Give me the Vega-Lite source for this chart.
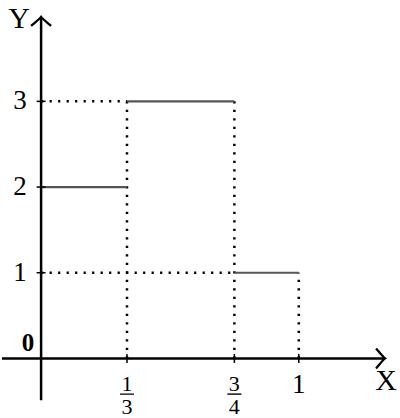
{
  "$schema": "https://vega.github.io/schema/vega-lite/v6.json",
  "width": 400,
  "height": 418,
  "autosize": {"type": "fit", "contains": "padding"},
  "padding": 0,
  "config": {
    "view": {"stroke": null},
    "text": {"font": "Liberation Serif", "color": "#000"}
  },
  "encoding": {
    "x": {"type": "quantitative", "scale": {"domain": [-0.1517, 1.3927], "nice": false, "zero": false}, "axis": null},
    "y": {"type": "quantitative", "scale": {"domain": [-0.6605, 4.183], "nice": false, "zero": false}, "axis": null}
  },
  "layer": [
    {
      "data": {"values": [
        {"x1": 0, "x2": 0.3333, "y1": 3, "y2": 3},
        {"x1": 0, "x2": 0.75, "y1": 1, "y2": 1},
        {"x1": 0.3333, "x2": 0.3333, "y1": 0, "y2": 3},
        {"x1": 0.75, "x2": 0.75, "y1": 0, "y2": 3},
        {"x1": 1, "x2": 1, "y1": 0, "y2": 1}
      ]},
      "mark": {"type": "rule", "color": "#000", "strokeWidth": 2.5, "strokeDash": [2.2, 6.3]},
      "encoding": {
        "x": {"field": "x1"}, "x2": {"field": "x2"},
        "y": {"field": "y1"}, "y2": {"field": "y2"}
      }
    },
    {
      "data": {"values": [
        {"x1": 0, "x2": 0.3333, "y1": 2, "y2": 2},
        {"x1": 0.3333, "x2": 0.75, "y1": 3, "y2": 3},
        {"x1": 0.75, "x2": 1, "y1": 1, "y2": 1}
      ]},
      "mark": {"type": "rule", "color": "#555", "strokeWidth": 2.2},
      "encoding": {
        "x": {"field": "x1"}, "x2": {"field": "x2"},
        "y": {"field": "y1"}, "y2": {"field": "y2"}
      }
    },
    {
      "data": {"values": [
        {"x1": -0.1517, "x2": 1.3347, "y1": 0, "y2": 0},
        {"x1": 0, "x2": 0, "y1": -0.487, "y2": 3.986}
      ]},
      "mark": {"type": "rule", "color": "#000", "strokeWidth": 2.5},
      "encoding": {
        "x": {"field": "x1"}, "x2": {"field": "x2"},
        "y": {"field": "y1"}, "y2": {"field": "y2"}
      }
    },
    {
      "data": {"values": [{"v": 0.3333}, {"v": 0.75}, {"v": 1}]},
      "mark": {"type": "tick", "orient": "vertical", "size": 9, "thickness": 1.5, "color": "#000", "opacity": 1},
      "encoding": {"x": {"field": "v"}, "y": {"datum": 0}}
    },
    {
      "data": {"values": [{"v": 1}, {"v": 2}, {"v": 3}]},
      "mark": {"type": "tick", "orient": "horizontal", "size": 9, "thickness": 1.5, "color": "#000", "opacity": 1},
      "encoding": {"x": {"datum": 0}, "y": {"field": "v"}}
    },
    {
      "data": {"values": [
        {"x": 0, "y": 3.986, "angle": 0},
        {"x": 1.3347, "y": 0, "angle": 90}
      ]},
      "mark": {
        "type": "point",
        "shape": "M-1,0.9 C-0.6,0.55 -0.16,0.22 0,0 C0.16,0.22 0.6,0.55 1,0.9",
        "filled": false,
        "stroke": "#000",
        "strokeWidth": 2.3,
        "size": 400,
        "opacity": 1
      },
      "encoding": {
        "x": {"field": "x"},
        "y": {"field": "y"},
        "angle": {"field": "angle", "type": "quantitative", "scale": null}
      }
    },
    {
      "data": {"values": [
        {"v": 1, "t": "1"},
        {"v": 2, "t": "2"},
        {"v": 3, "t": "3"}
      ]},
      "mark": {"type": "text", "fontSize": 27, "dx": -21, "align": "center", "baseline": "middle"},
      "encoding": {
        "x": {"datum": 0},
        "y": {"field": "v"},
        "text": {"field": "t"}
      }
    },
    {
      "data": {"values": [{"t": "0"}]},
      "mark": {"type": "text", "fontSize": 25, "fontWeight": "bold", "dx": -13, "dy": -15, "align": "center", "baseline": "middle"},
      "encoding": {
        "x": {"datum": 0},
        "y": {"datum": 0},
        "text": {"field": "t"}
      }
    },
    {
      "data": {"values": [{"t": "Y"}]},
      "mark": {"type": "text", "fontSize": 30, "dx": -22, "dy": 2, "align": "center", "baseline": "middle"},
      "encoding": {
        "x": {"datum": 0},
        "y": {"datum": 3.986},
        "text": {"field": "t"}
      }
    },
    {
      "data": {"values": [{"t": "X"}]},
      "mark": {"type": "text", "fontSize": 30, "dx": 1, "dy": 23, "align": "center", "baseline": "middle"},
      "encoding": {
        "x": {"datum": 1.3347},
        "y": {"datum": 0},
        "text": {"field": "t"}
      }
    },
    {
      "data": {"values": [{"v": 1, "t": "1"}]},
      "mark": {"type": "text", "fontSize": 27, "dy": 27, "align": "center", "baseline": "middle"},
      "encoding": {
        "x": {"field": "v"},
        "y": {"datum": 0},
        "text": {"field": "t"}
      }
    },
    {
      "data": {"values": [
        {"v": 0.3333, "n": "1", "d": "3"},
        {"v": 0.75, "n": "3", "d": "4"}
      ]},
      "layer": [
        {
          "mark": {"type": "text", "fontSize": 22, "dy": 26, "align": "center", "baseline": "middle"},
          "encoding": {"x": {"field": "v"}, "y": {"datum": 0}, "text": {"field": "n"}}
        },
        {
          "mark": {"type": "text", "fontSize": 22, "dy": 49, "align": "center", "baseline": "middle"},
          "encoding": {"x": {"field": "v"}, "y": {"datum": 0}, "text": {"field": "d"}}
        },
        {
          "mark": {"type": "tick", "orient": "horizontal", "size": 14, "thickness": 1.4, "color": "#000", "yOffset": 35.7, "opacity": 1},
          "encoding": {"x": {"field": "v"}, "y": {"datum": 0}}
        }
      ]
    }
  ]
}
